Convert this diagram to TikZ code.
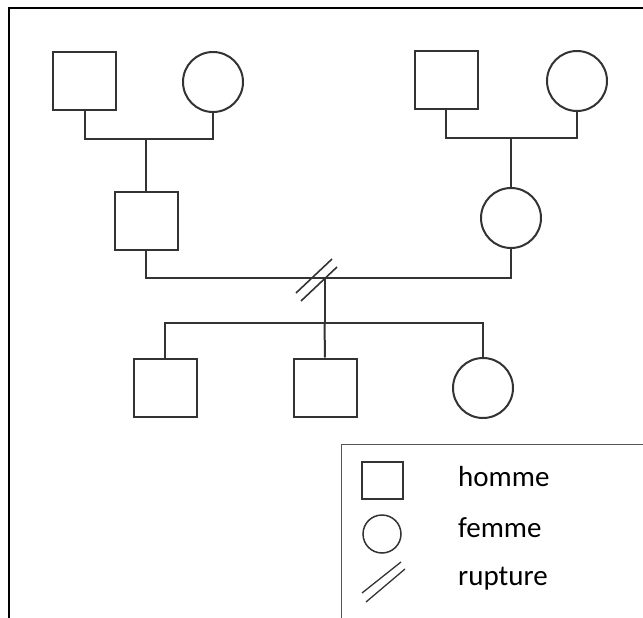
\documentclass[tikz,border=0pt]{standalone}
\usepackage{fontspec}
\setmainfont{Carlito}
\definecolor{ink}{HTML}{333333}
\definecolor{legline}{HTML}{555555}
\begin{document}
\begin{tikzpicture}[x=1pt,y=-1pt,line join=miter,
  ind/.style={draw=ink,line width=2pt,inner sep=0pt,fill=white},
  male/.style={ind,rectangle,minimum width=63pt,minimum height=58pt},
  female/.style={ind,circle,minimum size=60pt},
  link/.style={draw=ink,line width=2pt},
  legm/.style={draw=ink,line width=1.5pt,inner sep=0pt,rectangle,minimum width=41pt,minimum height=37pt},
  legf/.style={draw=ink,line width=1.5pt,inner sep=0pt,circle,minimum size=38pt},
  legtext/.style={anchor=base west,inner sep=0pt,font=\fontsize{29}{32}\selectfont,text=black}]
\useasboundingbox (0,0) rectangle (643,618);
% frame
\draw[black,line width=1.5pt] (9,618) -- (9,8) -- (643,8);
% individuals
\node[male] (gp1) at (84.5,81) {};
\node[female] (gm1) at (213,82) {};
\node[male] (gp2) at (446,80) {};
\node[female] (gm2) at (577,81) {};
\node[male] (father) at (146,220.5) {};
\node[female] (mother) at (511,218) {};
\node[male] (c1) at (165,387.5) {};
\node[male] (c2) at (325,387.5) {};
\node[female] (c3) at (483,388) {};
% junctions
\coordinate (j1) at (146,139);
\coordinate (j2) at (511,138);
\coordinate (m) at (324.5,278);
\coordinate (s) at (324.5,323);
\draw[link] (gp1.south) |- (j1) -| (gm1.south);
\draw[link] (j1) -- (father.north);
\draw[link] (gp2.south) |- (j2) -| (gm2.south);
\draw[link] (j2) -- (mother.north);
\draw[link] (father.south) |- (m) -| (mother.south);
\draw[link] (m) -- (s);
\draw[link] (c1.north) |- (s) -| (c3.north);
\draw[link] (s) -- (c2.north);
% rupture mark
\coordinate (ra1) at (296,293);
\coordinate (ra2) at (332,259);
\coordinate (rb1) at (301,301);
\coordinate (rb2) at (337,267);
\draw[link,line width=1.6pt] (ra1) -- (ra2);
\draw[link,line width=1.6pt] (rb1) -- (rb2);
% legend
\draw[legline,line width=1pt] (341,618) -- (341,444) -- (643,444);
\node[legm] (lm) at (382.5,480.5) {};
\node[legf] (lf) at (382,534) {};
\coordinate (la1) at (362,593);
\coordinate (la2) at (401,562);
\coordinate (lb1) at (366,602);
\coordinate (lb2) at (405,569);
\draw[draw=ink,line width=1.3pt] (la1) -- (la2);
\draw[draw=ink,line width=1.3pt] (lb1) -- (lb2);
\node[legtext] (th) at (458,486) {homme};
\node[legtext] (tf) at (458,537) {femme};
\node[legtext] (tr) at (458,585) {rupture};
\end{tikzpicture}
\end{document}
